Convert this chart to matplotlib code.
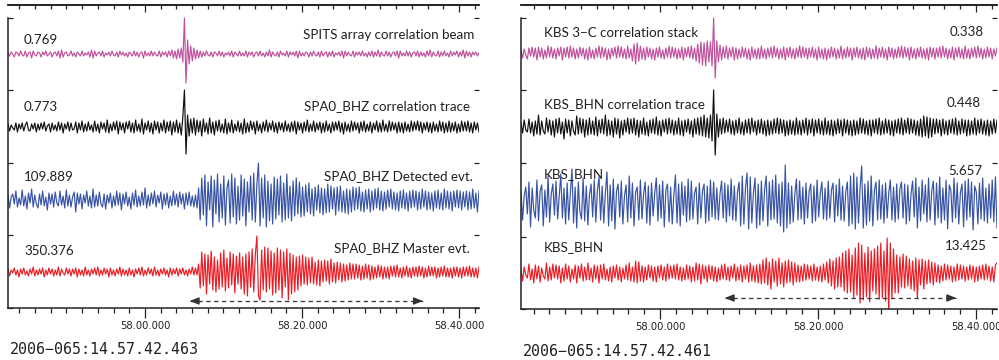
import numpy as np
import matplotlib
matplotlib.use("Agg")
import matplotlib.pyplot as plt

# ---------------- data (amplitudes, in screen-pixel units) -------------
# Left panel: SPITS / SPA0
spits_beam = [1,-2,2,0,-3,2,1,-2,3,-1, -2,3,-3,1,2,-4,3,-1,-2,2, 1,-3,2,-1,3,-2,0,2,-3,1,
              2,-2,3,-4,4,-3,1,2,-2,-1, 3,-2,1,-3,2,0,-2,3,-2,1, -1,2,-3,4,-4,3,-2,1,2,-2,
              3,-3,1,-1,2,-2,3,-1,-2,2, -3,3,-1,2,-2,1,-3,2,0,-2, 3,-2,2,-3,1,2,-4,3,-2,1,
              -2,3,-2,2,-1,-2,3,-3,2,-1, 2,-3,3,-2,4,-4,3,-5,5,-4, 6,-8,36,-29,14,-10,8,-7,6,-5,
              4,-4,3,-3,2,-2,3,-1,-2,2, -3,2,1,-2,3,-2,2,-3,1,-1, 2,-2,3,-3,2,0,-2,3,-2,1,
              -2,3,-3,2,-1,2,-3,1,2,-2, 3,-2,1,-3,2,-2,4,-3,2,-1, -2,2,-3,3,-1,1,-2,3,-3,2,
              -1,2,-2,3,-4,3,-2,1,-2,2, 1,-3,2,-2,3,-1,-2,2,-3,3, -2,1,2,-3,2,-2,3,-3,1,-1,
              2,-2,3,-4,3,-2,2,-1,-2,3, -3,2,-1,2,-2,3,-2,1,-3,2, -2,3,-3,2,-2,4,-3,2,-1,-2,
              3,-2,2,-3,1,2,-2,3,-4,3, -2,1,-2,3,-2,2,-3,1,2,-2, 3,-3,2,-2,1,-3,3,-2,4,-3,
              2,-1,-2,3,-3,2,-2,3,-2,1, -3,3,-2,2,-1,3,-3,2,-2,4, -4,3,-2,2,-3,2,-1,2,-2,1]
spa0_corr = [3,-4,2,-1,-3,4,-5,3,-2,4, -4,2,5,-3,-4,3,-2,4,-5,3, -3,4,-2,5,-4,1,3,-5,4,-3,
             2,-4,5,-3,4,-6,3,-2,5,-4, 4,-3,-2,5,-6,4,-3,6,-5,3, -4,5,-3,2,-5,6,-4,3,-6,5,
             -2,4,-5,7,-6,3,-4,5,-3,6, -7,5,-3,4,-6,5,-2,6,-5,4, -6,7,-4,3,-5,8,-7,4,-3,6,
             -5,4,-7,6,-3,5,-6,4,-4,7, -6,5,-4,6,-8,5,-5,7,-6,4, -8,10,37,-27,12,-9,8,-6,9,-8,
             7,-5,6,-9,8,-5,4,-7,9,-6, 5,-8,6,-4,7,-5,3,-6,8,-7, 4,-5,7,-6,3,-4,6,-5,4,-7,
             8,-6,4,-5,6,-3,5,-7,6,-4, 3,-6,5,-4,7,-5,4,-3,6,-5, 4,-6,5,-3,4,-5,6,-4,3,-5,
             5,-4,6,-7,5,-3,4,-6,5,-4, 7,-5,3,-4,6,-5,4,-3,5,-6, 4,-5,6,-4,3,-6,5,-4,5,-3,
             6,-5,4,-7,5,-4,3,-5,6,-4, 5,-3,4,-6,5,-4,6,-5,3,-4, 5,-6,4,-3,6,-5,4,-5,7,-4,
             3,-5,6,-4,5,-3,4,-6,5,-5, 4,-6,5,-4,3,-5,6,-4,5,-3, 6,-4,5,-6,4,-3,5,-5,4,-6,
             5,-4,3,-5,6,-4,5,-6,4,-5, 6,-5,4,-4,5,-6,3,-5,6,-4, 5,-4,6,-5,4,-6,5,-3,4,-5]
spa0_detected = [5,-8,3,6,-4,9,-7,2,-5,10, -6,4,-9,7,-3,11,-7,5,-4,-8, 6,-5,9,-6,3,-10,7,-4,6,-7,
                 8,-3,-6,9,-5,4,-8,10,-6,5, -7,3,8,-12,7,-4,6,-9,5,-3, 9,-6,4,-8,11,-7,5,-6,8,-4,
                 -7,6,-9,5,-3,7,-8,4,-6,9, -5,7,-10,6,-4,8,-6,3,-9,7, -5,10,-7,4,-6,8,-5,12,-8,5,
                 -6,7,-4,9,-7,5,-3,8,-9,6, -5,7,-8,4,-6,9,-5,6,-7,8, -4,6,-9,7,-5,8,-6,4,-7,5,
                 -8,12,-20,22,-15,25,-26,18,-10,24, -27,20,-14,26,-22,16,-18,24,-25,12,
                 20,-23,26,-17,22,-24,14,-20,25,-16, 21,-26,18,-12,24,-20,27,-22,16,37,
                 -26,22,-18,25,-27,19,-21,16,-24,23, -19,21,-15,24,-22,17,-20,26,-18,14,
                 -21,19,-16,22,-14,18,-17,13,-16,15, -12,17,-14,11,-16,13,-10,15,-13,12,
                 -15,11,-13,16,-12,14,-9,12,-15,13, -11,14,-12,9,-13,11,-14,10,-12,13,
                 -10,12,-9,13,-11,8,-12,10,-9,11, -12,9,-10,11,-8,12,-10,9,-11,8,
                 -9,10,-7,11,-9,8,-10,7,-11,9, -8,10,-9,7,-11,9,-8,10,-7,9,
                 -10,8,-9,11,-7,9,-10,8,-9,7, -11,9,-8,10,-9,7,-10,11,-8,9,
                 -9,8,-11,9,-7,10,-8,9,-10,8, -7,9,-10,8,-9,11,-8,7,-12,9]
spa0_master = [3,-4,2,-1,4,-3,2,-5,3,-2, 4,-3,1,-4,3,-2,5,-4,2,-3, 3,-2,4,-5,2,-3,4,-2,3,-4,
               2,-3,5,-4,3,-1,-3,4,-2,3, -4,3,-2,4,-5,3,-3,2,-4,5, -3,2,-4,3,-2,4,-3,5,-4,2,
               -3,4,-2,3,-5,4,-3,2,-4,3, -2,5,-4,3,-3,2,-4,4,-3,2, -5,3,-2,4,-3,5,-4,2,-3,4,
               -2,3,-4,5,-3,2,-4,3,-2,4, -3,2,-5,4,-3,3,-2,4,-4,3, -2,4,-3,2,-4,3,-2,5,-3,4,
               -3,8,-16,20,-14,18,-22,17,-12,21, -18,15,-20,12,-17,19,-15,22,-19,14,
               -16,20,-13,18,-21,16,-12,19,-17,15, -22,18,-24,20,-15,23,-20,17,36,-24,
               -28,22,-18,25,-20,24,-17,21,-23,19, -21,24,-18,22,-26,20,-15,23,-28,19,
               -22,17,-20,15,-18,16,-14,17,-12,15, -13,14,-11,15,-12,10,-13,12,-14,11,
               -10,12,-9,11,-12,13,-10,9,-11,10, -8,9,-10,8,-9,7,-8,9,-7,8,
               -7,8,-6,7,-8,6,-7,8,-6,7, -8,6,-7,5,-6,7,-5,6,-7,5,
               -6,5,-7,6,-4,6,-5,7,-5,4, -6,5,-4,6,-5,4,-6,5,-4,5,
               -5,6,-4,5,-6,4,-5,6,-4,5, -4,5,-6,4,-5,5,-4,6,-5,4,
               -5,4,-6,5,-4,5,-5,4,-6,5, -4,5,-4,6,-5,4,-5,4,-6,5]

# Right panel: KBS
kbs_stack = [3,-5,4,-2,-6,5,-3,6,-4,5, -7,6,-4,5,-6,3,-5,7,-4,6, -5,4,-6,5,-3,6,-7,5,-4,6,
             -5,7,-4,5,-6,4,-5,6,-3,5, -6,4,-7,6,-5,3,-6,5,-4,7, -5,6,-4,5,-7,4,-6,5,-3,6,
             -5,7,-4,6,-5,4,-6,7,-5,4, -8,9,-11,10,-8,7,-6,5,-7,6, -4,5,-6,4,-7,5,-4,6,-5,3,
             -6,5,-4,7,-5,6,-4,5,-6,4, -5,6,-7,5,-4,6,-5,7,-6,5, -8,9,-10,11,-12,10,-13,12,-9,11,
             -13,35,-25,12,-9,8,-7,6,-5,7, -6,5,-4,6,-7,5,-6,4,-5,6, -4,5,-6,4,-7,6,-5,4,-6,5,
             -6,7,-5,4,-6,5,-4,6,-5,7, -4,5,-6,4,-5,6,-7,5,-4,6, -5,4,-6,5,-4,7,-5,6,-4,5,
             -6,5,-4,6,-5,4,-7,6,-5,4, -6,5,-7,4,-5,6,-4,5,-6,4, -5,7,-6,4,-5,6,-4,5,-7,5,
             -4,6,-5,4,-6,5,-7,6,-4,5, -6,4,-5,7,-6,5,-4,6,-5,4, -7,6,-4,5,-6,4,-5,6,-4,7,
             -5,6,-4,5,-7,6,-5,4,-6,5, -4,6,-5,4,-6,5,-7,6,-4,5, -6,5,-4,6,-5,7,-4,5,-6,4,
             -5,6,-7,5,-4,6,-5,4,-6,7, -5,4,-6,5,-4,6,-5,7,-4,5, -6,4,-5,6,-4,5,-6,4,-3,5]
kbs_corr = [4,-6,7,-3,-5,8,-6,5,-9,6, -7,12,-8,6,-4,-7,9,-5,7,-8, 6,-10,8,-6,9,-7,5,-12,8,-6,
            7,-9,6,-4,-8,11,-7,9,-6,8, -10,7,-8,9,-7,6,-8,10,-9,7, -6,8,-7,12,-9,7,-8,6,-10,9,
            -7,8,-11,6,-8,7,-5,9,-7,8, -6,9,-8,7,-10,6,-7,9,-8,5, -9,7,-6,8,-7,10,-8,6,-9,7,
            -5,8,-7,9,-6,7,-8,6,-7,9, -8,6,-9,7,-5,8,-7,6,-10,8, -7,9,-8,10,-9,12,-10,9,-11,12,
            -14,37,-28,13,-10,8,-7,9,-6,7, -5,8,-7,6,-8,7,-6,9,-7,5, -8,7,-6,8,-7,9,-5,6,-8,7,
            -6,8,-7,6,-9,7,-8,6,-7,8, -6,9,-7,8,-6,7,-9,6,-8,7, -7,6,-8,9,-7,6,-8,7,-6,9,
            -8,7,-6,8,-9,7,-6,8,-7,6, -8,9,-7,6,-8,7,-9,6,-7,8, -6,7,-9,8,-6,7,-8,6,-9,7,
            -8,6,-7,9,-6,8,-7,6,-8,7, -9,7,-6,8,-7,9,-8,6,-7,8, -6,7,-8,6,-9,7,-6,8,-7,9,
            -8,7,-6,9,-7,8,-6,7,-8,6, -9,8,-10,11,-9,10,-11,9,-10,8, -7,8,-6,7,-9,8,-7,6,-8,7,
            -6,8,-7,9,-8,6,-7,8,-6,7, -9,7,-8,6,-7,9,-8,7,-6,8, -7,6,-8,7,-9,6,-7,8,-6,7]
kbs_bhn_det = [10,-18,6,15,-12,20,-25,14,-8,-16, 22,-19,11,17,-24,12,-15,26,-20,8,
               18,-13,21,-17,5,28,-16,14,-22,19, -18,9,33,-21,15,-26,20,-10,-17,24,
               -19,16,-23,7,18,-15,22,-20,12,25, -18,16,-21,9,30,-24,17,-19,23,-27,
               11,18,-15,21,-22,6,17,-20,26,-16, 19,-24,10,15,-18,22,-17,8,20,-21,
               16,-23,19,-14,9,24,-19,17,-16,21, -25,12,18,-20,15,-22,7,27,-21,18,
               -24,20,-13,16,-20,23,-18,21,-17,9, 15,-22,19,-16,11,18,-21,16,-19,22,
               -15,20,-17,14,-18,8,21,-16,19,-20, 17,-14,23,-18,16,-19,10,20,-24,26,
               -22,14,29,-27,25,-21,9,24,-26,18, -23,21,-19,12,26,-24,20,-18,22,-17,
               27,-21,18,-24,20,-30,37,-26,19,-22, 16,-20,8,23,-18,21,-17,15,-22,19,
               -16,11,18,-21,16,-19,22,-15,9,20, -17,14,-18,21,-16,12,19,-20,17,-14,
               23,-18,16,-19,10,20,-24,26,-22,29, -27,25,-21,14,36,-26,18,-23,21,-19,
               26,-24,12,20,-18,22,-17,17,-21,19, -16,9,22,-18,15,-20,18,-17,13,20,
               -16,18,-22,17,-19,8,21,-15,24,-26, 15,-19,22,-12,17,-20,24,-18,11,21,
               -23,19,-16,25,-21,14,-18,22,-27,17, 12,-20,24,-16,19,-22,9,18,-25,21,
               -18,23,-15,20,-28,16,10,-22,19,-17, 24,-19,14,-21,18,-16,22,-20,25,-26]
kbs_bhn_master = [3,-8,6,-2,-5,9,-7,4,-10,8, -6,7,-9,5,-3,-6,10,-8,6,-7, 9,-5,8,-6,7,-10,5,-8,9,-6,
                  7,-9,4,-6,8,-10,7,-5,9,-8, 6,-7,10,-7,5,-9,8,-6,7,-10, 8,-6,9,-7,4,-8,6,-9,7,-5,
                  8,-7,6,-9,5,-6,8,-7,10,-8, 6,-9,12,-10,11,-8,7,-9,6,-7, 8,-5,7,-8,6,-9,7,-5,8,-7,
                  6,-8,9,-6,7,-5,8,-6,9,-7, 6,-8,5,-7,8,-6,7,-9,6,-8, 10,-7,9,-11,8,-6,7,-9,8,-6,
                  7,-8,6,-9,5,-7,8,-6,9,-7, 6,-8,7,-5,9,-8,6,-7,8,-9, 7,-6,8,-9,10,-8,7,-9,8,-10,
                  9,-11,13,-10,15,-12,11,-16,14,-9, 12,-13,15,-11,10,-14,12,-10,13,-9,
                  11,-12,10,-9,8,-9,7,-8,9,-7, 8,-6,7,-8,9,-7,6,-8,7,-9,
                  9,-7,11,-10,14,-13,12,-16,15,-14, 16,-14,20,-18,22,-20,24,-19,18,-25,
                  25,-22,30,-30,28,-27,20,-24,26,-29, 22,-18,24,-21,27,-26,30,-25,22,-28,
                  35,-40,30,-25,24,-20,18,-20,16,-14, 19,-15,17,-13,14,-16,12,-18,15,-25,
                  13,-12,14,-16,12,-11,13,-10,11,-12, 10,-9,8,-10,7,-8,9,-7,8,-6,
                  7,-9,6,-8,9,-7,8,-6,7,-8, 6,-7,8,-6,7,-9,6,-8,7,-6, 8,-7,9,-6,7,-8,6,-9,8,10]

left_names = ["SPITS array correlation beam", "SPA0_BHZ correlation trace",
              "SPA0_BHZ Detected evt.", "SPA0_BHZ Master evt."]
left_values = ["0.769", "0.773", "109.889", "350.376"]
right_names = ["KBS 3\u2212C correlation stack", "KBS_BHN correlation trace", "KBS_BHN", "KBS_BHN"]
right_values = ["0.338", "0.448", "5.657", "13.425"]

major_ticks = [58.0, 58.2, 58.4]
major_labels = ["58.00.000", "58.20.000", "58.40.000"]
left_window = [57.8255, 58.4255]
right_window = [57.8241, 58.4266]
left_arrow = [58.057, 58.354]
right_arrow = [58.082, 58.375]
left_start = "2006\u2212065:14.57.42.463"
right_start = "2006\u2212065:14.57.42.461"

colors = ["#c0509c", "#111111", "#3753a4", "#ec1c24"]
TXT = "#231f20"

# ---------------- figure ----------------
W, H = 999, 360
fig = plt.figure(figsize=(W / 100, H / 100), dpi=100)


def fx(x):
    return x / W


def fy(y):
    return 1 - y / H


def make_panel(x0, x1, ytop, ybot, window, traces, baselines, slots, arrow, arrow_y):
    ax = fig.add_axes([fx(x0), fy(ybot), (x1 - x0) / W, (ybot - ytop) / H])
    ax.set_xlim(*window)
    ax.set_ylim(0, ybot - ytop)
    ax.patch.set_alpha(0)
    for vals, base, c in zip(traces, baselines, colors):
        v = np.asarray(vals, dtype=float)
        t = np.linspace(window[0], window[1], len(v))
        ax.plot(t, base + v, color=c, lw=0.85)
    for s in ["left", "bottom", "top"]:
        ax.spines[s].set_linewidth(1.1)
        ax.spines[s].set_color("#222222")
    ax.spines["right"].set_visible(False)
    ax.spines["left"].set_bounds(0, slots[-1])
    ax.set_xticks(major_ticks)
    ax.set_xticklabels(major_labels, fontsize=7.2, family="DejaVu Sans", color=TXT)
    minors = [m / 100 for m in range(5784, 5844, 2)]
    minors = [m for m in minors if window[0] < m < window[1]]
    ax.set_xticks(minors, minor=True)
    ax.tick_params(axis="x", which="major", direction="out", length=7.2, width=0.9,
                   pad=2.5, colors="#222222", labelcolor=TXT)
    ax.tick_params(axis="x", which="minor", direction="out", length=3.6, width=0.9,
                   colors="#222222")
    ax.set_yticks(slots)
    ax.set_yticklabels([])
    ax.tick_params(axis="y", direction="in", length=3.8, width=0.9, left=True, right=True,
                   colors="#222222")
    sec = ax.secondary_xaxis("top")
    sec.set_xticks(major_ticks)
    sec.set_xticklabels([])
    sec.set_xticks(minors, minor=True)
    sec.tick_params(which="major", direction="in", length=5, width=0.9, colors="#222222")
    sec.tick_params(which="minor", direction="in", length=2.8, width=0.9, colors="#222222")
    sec.spines["top"].set_linewidth(1.1)
    # dashed double arrow
    ax.plot(arrow, [arrow_y, arrow_y], ls=(0, (3.5, 2.8)), color="#333333", lw=0.9)
    span = arrow[1] - arrow[0]
    for end, sign in ((arrow[0], 1), (arrow[1], -1)):
        ax.annotate("", xy=(end, arrow_y), xytext=(end + sign * 0.03 * span, arrow_y),
                    arrowprops=dict(arrowstyle="-|>,head_length=0.55,head_width=0.22",
                                    color="#333333", lw=0.9, shrinkA=0, shrinkB=0))
    return ax


make_panel(8, 479, 5, 308, left_window,
           [spits_beam, spa0_corr, spa0_detected, spa0_master],
           [254, 181, 108, 36], [0, 73, 145, 218, 290], left_arrow, 7)
make_panel(521, 997, 5, 309, right_window,
           [kbs_stack, kbs_corr, kbs_bhn_det, kbs_bhn_master],
           [256, 182, 107, 36], [0, 72, 146, 219, 291], right_arrow, 11)

LAB = dict(family="Lato", fontsize=9.6, color=TXT, va="center")
for (yv, xn, yn), v, n in zip([(40, 474, 35), (107, 470, 106), (177, 473, 176), (251, 470, 248)],
                              left_values, left_names):
    fig.text(fx(24), fy(yv), v, ha="left", **LAB)
    fig.text(fx(xn), fy(yn), n, ha="right", **LAB)
for (yn, xv, yv), v, n in zip([(33, 984, 32), (104, 981, 103), (174, 982, 171), (247, 987, 246)],
                              right_values, right_names):
    fig.text(fx(544), fy(yn), n, ha="left", **LAB)
    fig.text(fx(xv), fy(yv), v, ha="right", **LAB)

fig.text(fx(10), fy(349), left_start, ha="left", va="center", family="DejaVu Sans Mono",
         fontsize=10.8, color=TXT)
fig.text(fx(523), fy(351), right_start, ha="left", va="center", family="DejaVu Sans Mono",
         fontsize=10.8, color=TXT)

fig.savefig("out.png", dpi=100)
